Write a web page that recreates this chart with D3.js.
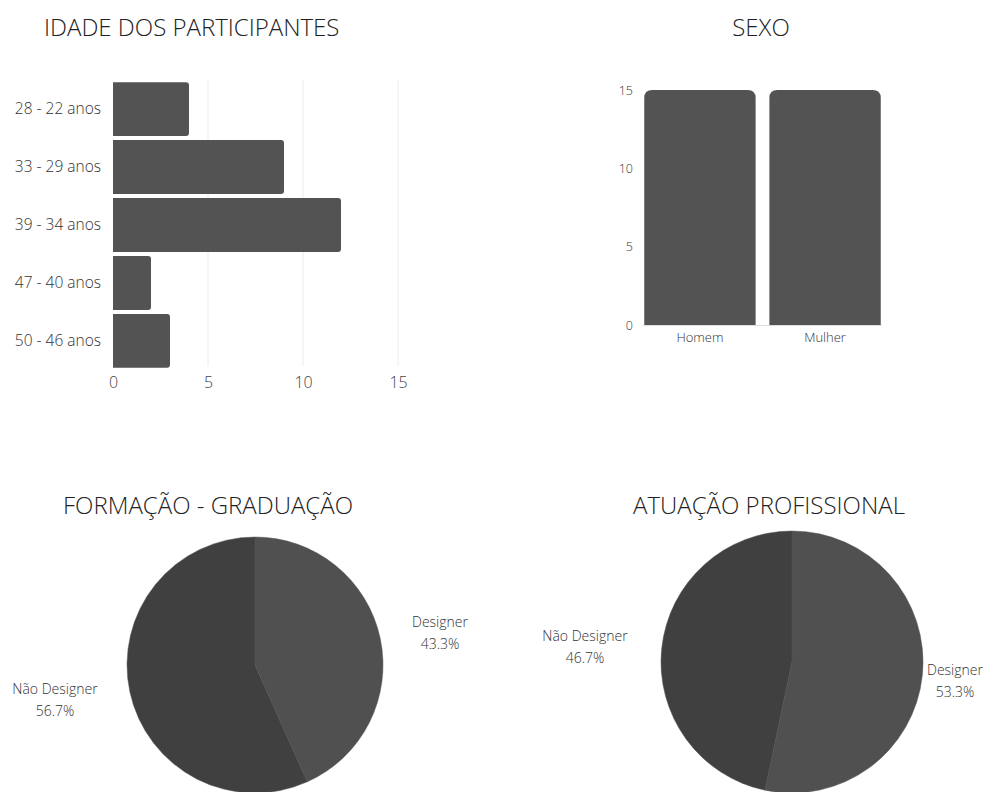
<!DOCTYPE html>
<html>
<head>
<meta charset="utf-8">
<script src="https://cdn.jsdelivr.net/npm/d3@7"></script>
<style>
  body { margin: 0; background: #fff; }
  text { font-family: "Open Sans", sans-serif; }
</style>
</head>
<body>
<svg width="985" height="792"></svg>
<script>
// Data
const idadeLabels = ["28 - 22 anos", "33 - 29 anos", "39 - 34 anos", "47 - 40 anos", "50 - 46 anos"];
const idadeValues = [4, 9, 12, 2, 3];
const idadeTicks = [0, 5, 10, 15];

const sexoLabels = ["Homem", "Mulher"];
const sexoValues = [15, 15];
const sexoTicks = [0, 5, 10, 15];

const formacaoLabels = ["Designer", "Não Designer"];
const formacaoValues = [43.3, 56.7];

const atuacaoLabels = ["Designer", "Não Designer"];
const atuacaoValues = [53.3, 46.7];

const svg = d3.select("svg");
const barColor = "#535353";

// Path for a bar rounded only on one end
function roundedRight(x, y, w, h, r) {
    r = Math.min(r, w / 2, h / 2);
    return `M${x},${y}H${x + w - r}Q${x + w},${y} ${x + w},${y + r}V${y + h - r}Q${x + w},${y + h} ${x + w - r},${y + h}H${x}Z`;
}
function roundedTop(x, y, w, h, r) {
    r = Math.min(r, w / 2, h);
    return `M${x},${y + h}V${y + r}Q${x},${y} ${x + r},${y}H${x + w - r}Q${x + w},${y} ${x + w},${y + r}V${y + h}Z`;
}

// ---------- IDADE DOS PARTICIPANTES ----------
svg.append("text")
   .attr("x", 44).attr("y", 36)
   .style("font-size", "24px").style("font-weight", 300).style("fill", "#222")
   .text("IDADE DOS PARTICIPANTES");

const xIdade = d3.scaleLinear().domain([0, 15]).range([113, 398]);
const yIdade = d3.scaleBand().domain(idadeLabels).range([81, 369]).paddingInner(0.07).paddingOuter(0.02);

// gridlines
svg.append("g")
   .selectAll("line")
   .data(idadeTicks.slice(1))
   .join("line")
   .attr("x1", d => xIdade(d)).attr("x2", d => xIdade(d))
   .attr("y1", 80).attr("y2", 366)
   .attr("stroke", "#ececec").attr("stroke-width", 1);

svg.append("g")
   .selectAll("path")
   .data(idadeValues)
   .join("path")
   .attr("d", (d, i) => roundedRight(xIdade(0), yIdade(idadeLabels[i]), xIdade(d) - xIdade(0), yIdade.bandwidth(), 3))
   .attr("fill", barColor);

const axIdadeX = svg.append("g")
   .attr("transform", "translate(0,369)")
   .call(d3.axisBottom(xIdade).tickValues(idadeTicks).tickSize(0).tickPadding(8));
axIdadeX.select(".domain").remove();
axIdadeX.selectAll("text").style("font-size", "16px").style("font-family", "Open Sans").style("font-weight", 300).style("fill", "#444");

const axIdadeY = svg.append("g")
   .attr("transform", "translate(113,0)")
   .call(d3.axisLeft(yIdade).tickSize(0).tickPadding(12));
axIdadeY.select(".domain").remove();
axIdadeY.selectAll("text").style("font-size", "15.5px").style("font-family", "Open Sans").style("font-weight", 300).style("fill", "#333");

// ---------- SEXO ----------
svg.append("text")
   .attr("x", 761).attr("y", 36).attr("text-anchor", "middle")
   .style("font-size", "24px").style("font-weight", 300).style("fill", "#222")
   .text("SEXO");

const xSexo = d3.scaleBand().domain(sexoLabels).range([643, 882]).paddingInner(0.11).paddingOuter(0.01);
const ySexo = d3.scaleLinear().domain([0, 15]).range([325, 90]);

svg.append("g")
   .selectAll("path")
   .data(sexoValues)
   .join("path")
   .attr("d", (d, i) => roundedTop(xSexo(sexoLabels[i]), ySexo(d), xSexo.bandwidth(), ySexo(0) - ySexo(d), 8))
   .attr("fill", barColor);

svg.append("line")
   .attr("x1", 643).attr("x2", 882).attr("y1", ySexo(0) + 0.5).attr("y2", ySexo(0) + 0.5)
   .attr("stroke", "#ddd");

const axSexoY = svg.append("g")
   .attr("transform", "translate(633,0)")
   .call(d3.axisLeft(ySexo).tickValues(sexoTicks).tickSize(0).tickPadding(0));
axSexoY.select(".domain").remove();
axSexoY.selectAll("text").style("font-size", "12.5px").style("font-family", "Open Sans").style("font-weight", 300).style("fill", "#333");

const axSexoX = svg.append("g")
   .attr("transform", `translate(0,${ySexo(0)})`)
   .call(d3.axisBottom(xSexo).tickSize(0).tickPadding(8));
axSexoX.select(".domain").remove();
axSexoX.selectAll("text").style("font-size", "13px").style("font-family", "Open Sans").style("font-weight", 300).style("fill", "#333");

// ---------- Pies ----------
const pieColors = { "Designer": "#505050", "Não Designer": "#404040" };

function drawPie(title, titleX, labels, values, cx, cy, r, labelPos) {
    svg.append("text")
       .attr("x", titleX).attr("y", 514).attr("text-anchor", "middle")
       .style("font-size", "24px").style("font-weight", 300).style("fill", "#222")
       .text(title);

    const data = labels.map((l, i) => ({ label: l, value: values[i] }));
    const arcs = d3.pie().sort(null).value(d => d.value)(data);
    const arc = d3.arc().innerRadius(0).outerRadius(r);

    const g = svg.append("g").attr("transform", `translate(${cx},${cy})`);
    g.selectAll("path")
     .data(arcs)
     .join("path")
     .attr("d", arc)
     .attr("fill", d => pieColors[d.data.label])
     .attr("stroke", "#555").attr("stroke-width", 0.5);

    data.forEach((d, i) => {
        const t = svg.append("text")
           .attr("x", labelPos[i][0]).attr("y", labelPos[i][1])
           .attr("text-anchor", "middle")
           .style("font-size", "14px").style("font-weight", 300).style("fill", "#333");
        t.append("tspan").attr("x", labelPos[i][0]).text(d.label);
        t.append("tspan").attr("x", labelPos[i][0]).attr("dy", 22).text(d.value.toFixed(1) + "%");
    });
}

drawPie("FORMAÇÃO - GRADUAÇÃO", 208, formacaoLabels, formacaoValues, 255, 665, 128,
        [[440, 627], [55, 694]]);
drawPie("ATUAÇÃO PROFISSIONAL", 769, atuacaoLabels, atuacaoValues, 792, 662, 131,
        [[955, 675], [585, 641]]);
</script>
</body>
</html>
